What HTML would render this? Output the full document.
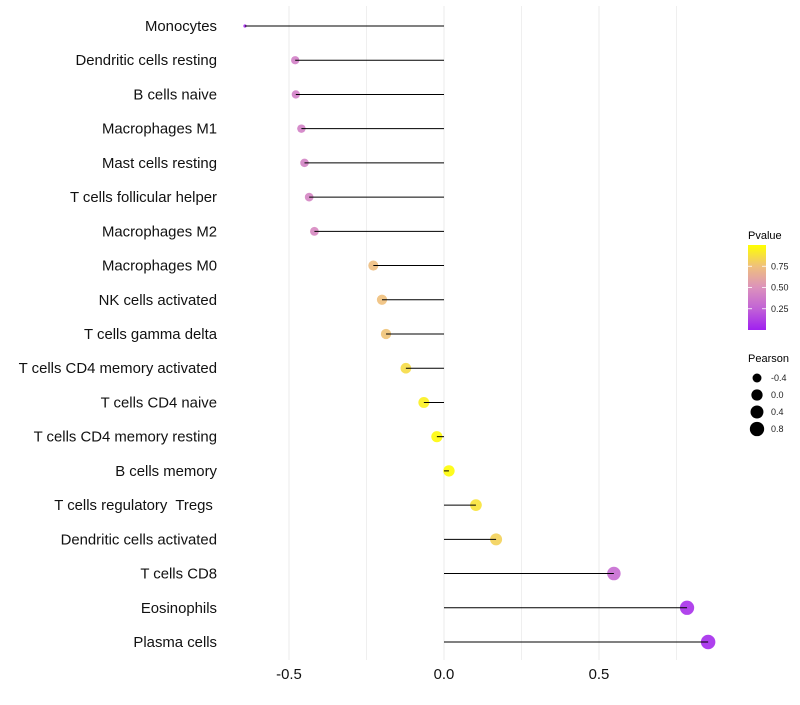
<!DOCTYPE html>
<html><head><meta charset="utf-8"><style>
body{margin:0;background:#fff;font-family:"Liberation Sans",sans-serif;}
text{white-space:pre;}
</style></head><body>
<svg id="c" width="800" height="700" xmlns="http://www.w3.org/2000/svg">
<defs><linearGradient id="pg" x1="0" y1="1" x2="0" y2="0">
<stop offset="0" stop-color="#a020f0"/><stop offset="0.25" stop-color="#c162d6"/><stop offset="0.5" stop-color="#dc92bc"/><stop offset="0.75" stop-color="#efc07c"/><stop offset="1" stop-color="#ffff00"/></linearGradient></defs>
<g id="grid"></g>
<g id="marks"></g>
<g id="labels"></g>
<g id="xt"></g>
<g>
<text x="748" y="239" font-size="11">Pvalue</text>
<rect x="748" y="245" width="18" height="85" fill="url(#pg)"/>
<g id="cbt"></g>
</g>
<g id="sizeleg">
<text x="748" y="362" font-size="11">Pearson</text>
</g>
</svg>
<script>
const categories=["Monocytes","Dendritic cells resting","B cells naive","Macrophages M1","Mast cells resting","T cells follicular helper","Macrophages M2","Macrophages M0","NK cells activated","T cells gamma delta","T cells CD4 memory activated","T cells CD4 naive","T cells CD4 memory resting","B cells memory","T cells regulatory  Tregs ","Dendritic cells activated","T cells CD8","Eosinophils","Plasma cells"];
const pearson=[-0.642,-0.48,-0.478,-0.46,-0.45,-0.435,-0.418,-0.228,-0.2,-0.187,-0.123,-0.065,-0.023,0.016,0.103,0.168,0.548,0.784,0.852];
const pvalue=[0.03,0.4,0.4,0.41,0.42,0.43,0.45,0.74,0.75,0.76,0.86,0.94,0.98,0.99,0.89,0.82,0.3,0.06,0.04];
const xTicks=[-0.5,0,0.5];
const xTickLabels=["-0.5","0.0","0.5"];
const xMinor=[-0.25,0.25,0.75];
const cbTicks=[0.25,0.5,0.75];
const sizeLegend=[-0.4,0.0,0.4,0.8];
const NS="http://www.w3.org/2000/svg";
const X=v=>444+v*310;
const Y=i=>26+i*(616/18);
const pmin=Math.min(...pearson);
const R=v=>{const d=v-pmin;return d<0.02?1.6:2.6+3.8*Math.sqrt(d);};
const stops=[[160,32,240],[193,98,214],[220,146,188],[239,192,124],[255,255,0]];
function col(p){const t=Math.max(0,Math.min(1,p))*4;const k=Math.min(3,Math.floor(t));const f=t-k;const a=stops[k],b=stops[k+1];return "rgb("+a.map((c,j)=>Math.round(c+(b[j]-c)*f)).join(",")+")";}
function mk(t,a,p){const e=document.createElementNS(NS,t);for(const k in a)e.setAttribute(k,a[k]);(p||document.getElementById('c')).appendChild(e);return e;}
const grid=document.getElementById('grid'),marks=document.getElementById('marks'),labels=document.getElementById('labels'),xt=document.getElementById('xt');
xMinor.concat(xTicks).forEach(v=>{const l=mk('line',{x1:X(v),x2:X(v),y1:6,y2:660,stroke:'#ebebeb','stroke-width':xTicks.includes(v)?1:0.8},grid);

});
categories.forEach((c,i)=>{
const y=Y(i);
const pt=mk('circle',{cx:X(pearson[i]),cy:y,r:R(pearson[i]),fill:col(pvalue[i]),'fill-opacity':0.9},marks);


const sg=mk('line',{x1:X(0),x2:X(pearson[i]),y1:y,y2:y,stroke:'#000','stroke-width':1},marks);


const t=mk('text',{x:217,y:y+5,'text-anchor':'end','font-size':14.9,fill:'#111'},labels);
t.textContent=c;


});
xTicks.forEach((v,i)=>{const t=mk('text',{x:X(v),y:679,'text-anchor':'middle','font-size':14.9,fill:'#111'},xt);t.textContent=xTickLabels[i];

});
const cbt=document.getElementById('cbt');
cbTicks.forEach(v=>{const y=330-v*85;
const l=mk('line',{x1:748,x2:752,y1:y,y2:y,stroke:'#fff','stroke-width':0.8},cbt);


const l2=mk('line',{x1:762,x2:766,y1:y,y2:y,stroke:'#fff','stroke-width':0.8},cbt);


const t=mk('text',{x:771,y:y+3,'font-size':9,fill:'#222'},cbt);t.textContent=v.toFixed(2);

});
const sl=document.getElementById('sizeleg');
sizeLegend.forEach((v,i)=>{const y=378+i*17;
const c=mk('circle',{cx:757,cy:y,r:R(v),fill:'#000'},sl);


const t=mk('text',{x:771,y:y+3,'font-size':9,fill:'#222'},sl);t.textContent=v.toFixed(1);

});
</script>
</body></html>
